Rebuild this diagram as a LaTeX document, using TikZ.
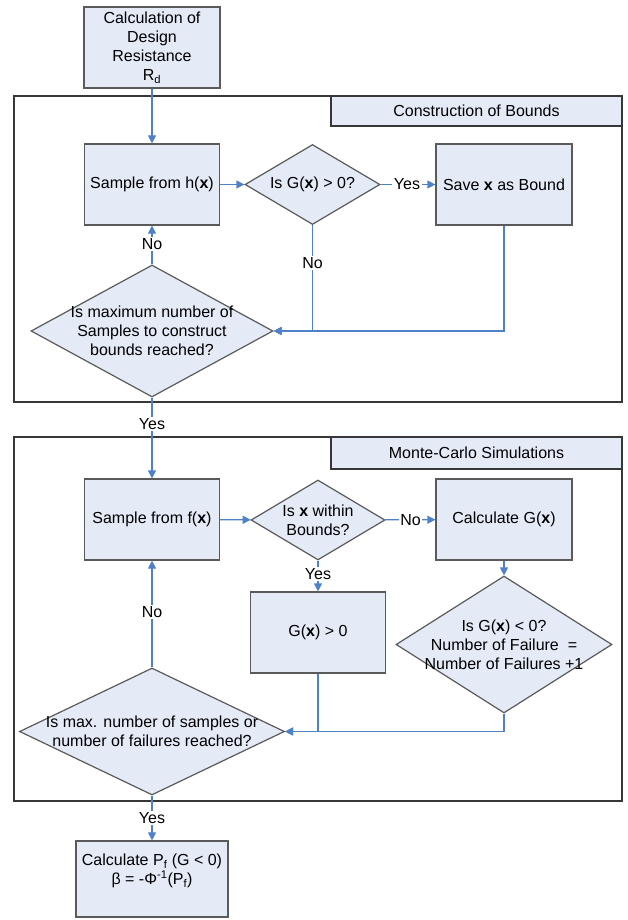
\documentclass[tikz,border=0pt]{standalone}
\usepackage{fontspec}
\setmainfont{Liberation Sans}
\usetikzlibrary{shapes.geometric,arrows.meta}
\definecolor{boxfill}{RGB}{228,234,246}
\definecolor{boxline}{RGB}{90,90,90}
\definecolor{flow}{RGB}{79,129,199}
\definecolor{frameline}{RGB}{55,55,55}

\begin{document}
\begin{tikzpicture}[x=1pt,y=-1pt,
  font=\fontsize{16}{19}\selectfont,
  stepbox/.style={draw=boxline,fill=boxfill,line width=1.2pt,rectangle,inner sep=0pt,align=center},
  decision/.style={draw=boxline,fill=boxfill,line width=1.2pt,diamond,inner sep=0pt},
  txt/.style={align=center,inner sep=0pt},
  flowarrow/.style={draw=flow,line width=1.2pt,-{Triangle[length=8pt,width=8pt]}},
  tag/.style={fill=white,inner sep=1.5pt},
  region/.style={draw=frameline,line width=1.5pt},
  heading/.style={draw=frameline,fill=boxfill,line width=1.2pt,inner sep=0pt}
]
\useasboundingbox (0,0) rectangle (627,920);

% section frames and their headings
\draw[region] (14,96) rectangle (622,402);
\node[heading,minimum width=291,minimum height=30] (hb) at (476.5,111) {Construction of Bounds};
\draw[region] (14,437) rectangle (622,801);
\node[heading,minimum width=291,minimum height=32] (hm) at (476.5,453) {Monte-Carlo Simulations};

% steps
\node[stepbox,minimum width=136,minimum height=81] (rd) at (152,47.5)
  {Calculation of\\Design\\Resistance\\R\textsubscript{d}};

\node[stepbox,minimum width=135,minimum height=81] (sh) at (152,184.5) {Sample from h(\textbf{x})};
\node[decision,minimum width=135,minimum height=80] (d1) at (312.5,184.5) {};
\node[txt] (d1t) at (d1) {Is G(\textbf{x}) > 0?};
\node[stepbox,minimum width=136,minimum height=81] (sv) at (504,184.5) {Save \textbf{x} as Bound};
\node[decision,minimum width=242,minimum height=132] (d2) at (152,331) {};
\node[txt] (d2t) at (d2) {Is maximum number of\\Samples to construct\\bounds reached?};

\node[stepbox,minimum width=135,minimum height=81] (sf) at (152,519.5) {Sample from f(\textbf{x})};
\node[decision,minimum width=134,minimum height=80] (d3) at (318,520) {};
\node[txt] (d3t) at (d3) {Is \textbf{x} within\\Bounds?};
\node[stepbox,minimum width=136,minimum height=81] (cg) at (504,519.5) {Calculate G(\textbf{x})};
\node[stepbox,minimum width=135,minimum height=81] (gx) at (318,632.5) {G(\textbf{x}) > 0};
\node[decision,minimum width=216,minimum height=137] (d4) at (504,644.5) {};
\node[txt] (d4t) at (504,645) {Is G(\textbf{x}) < 0?\\Number of Failure~~=\\Number of Failures +1};
\node[decision,minimum width=265,minimum height=127] (d5) at (152,731.5) {};
\node[txt] (d5t) at (d5) {Is max. number of samples or\\number of failures reached?};

\node[stepbox,minimum width=152,minimum height=76] (pf) at (152,879) {};
\node[txt] (pft) at (152,871) {Calculate P\textsubscript{f} (G < 0)\\β = -Φ\textsuperscript{-1}(P\textsubscript{f})};

% connectors
\draw[flowarrow] (rd) -- (sh);
\draw[flowarrow] (sh) -- (d1);
\draw[flowarrow] (d1) -- (sv);
\draw[flowarrow] (d1.south) |- (d2.east);
\draw[flowarrow] (sv.south) |- (d2.east);
\draw[flowarrow] (d2.north) -- (sh.south);
\draw[flowarrow] (d2.south) -- (sf.north);

\draw[flowarrow] (sf) -- (d3);
\draw[flowarrow] (d3) -- (cg);
\draw[flowarrow] (d3.south) -- (gx.north);
\draw[flowarrow] (cg.south) -- (d4.north);
\draw[flowarrow] (gx.south) |- (d5.east);
\draw[flowarrow] (d4.south) |- (d5.east);
\draw[flowarrow] (d5.north) -- (sf.south);
\draw[flowarrow] (d5.south) -- (pf.north);

% branch labels
\node[tag] (l1) at (407,184.5) {Yes};
\node[tag] (l2) at (312.5,263) {No};
\node[tag] (l3) at (152,244) {No};
\node[tag] (l4) at (152,424) {Yes};
\node[tag] (l5) at (410.5,520) {No};
\node[tag] (l6) at (318,574) {Yes};
\node[tag] (l7) at (152,612) {No};
\node[tag] (l8) at (152,818) {Yes};
\end{tikzpicture}
\end{document}
